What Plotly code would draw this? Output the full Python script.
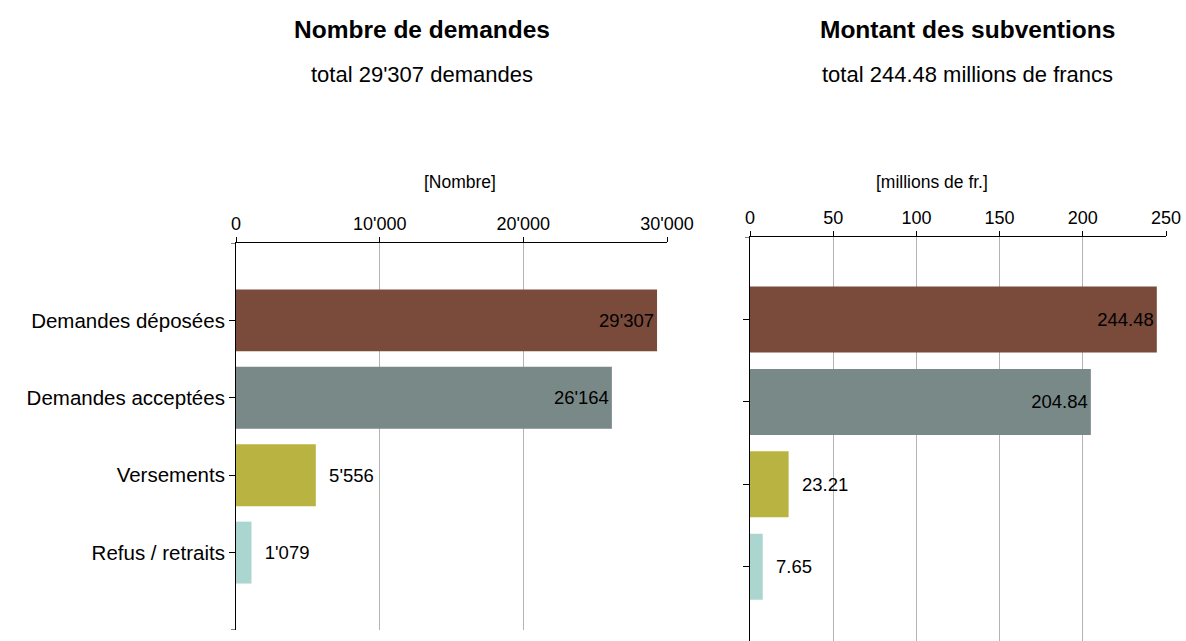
import plotly.graph_objects as go

# Data
categories = ["Demandes déposées", "Demandes acceptées", "Versements", "Refus / retraits"]
nombre = [29307, 26164, 5556, 1079]
montant = [244.48, 204.84, 23.21, 7.65]
bar_colors = ["#7a4a3b", "#798987", "#b9b441", "#abd6d0"]

nombre_ticks = [0, 10000, 20000, 30000]
nombre_ticktext = ["0", "10'000", "20'000", "30'000"]
montant_ticks = [0, 50, 100, 150, 200, 250]

W, H = 1186, 641


def px_x(p):
    return p / W


def px_y(p):
    return 1 - p / H


def fmt_thousands(v):
    return f"{v:,}".replace(",", "'")


FONT = "Liberation Sans, Arial, sans-serif"
PAD = "\u00a0\u00a0"  # small gap before labels placed outside the bars
label_pos = ["inside", "inside", "outside", "outside"]

fig = go.Figure()

# Left panel: number of requests
fig.add_trace(
    go.Bar(
        x=nombre,
        y=categories,
        orientation="h",
        marker=dict(color=bar_colors, line=dict(width=0)),
        text=[(PAD if p == "outside" else "") + fmt_thousands(v) for v, p in zip(nombre, label_pos)],
        textposition=label_pos,
        insidetextanchor="end",
        textfont=dict(family=FONT, color="black", size=18.5),
        constraintext="none",
        cliponaxis=False,
        width=0.8,
        xaxis="x",
        yaxis="y",
        hoverinfo="x+y",
    )
)

# Right panel: amount of subsidies
fig.add_trace(
    go.Bar(
        x=montant,
        y=categories,
        orientation="h",
        marker=dict(color=bar_colors, line=dict(width=0)),
        text=[(PAD if p == "outside" else "") + f"{v:.2f}" for v, p in zip(montant, label_pos)],
        textposition=label_pos,
        insidetextanchor="end",
        textfont=dict(family=FONT, color="black", size=18.5),
        constraintext="none",
        cliponaxis=False,
        width=0.8,
        xaxis="x2",
        yaxis="y2",
        hoverinfo="x+y",
    )
)

tick_font = dict(family=FONT, size=18, color="black")

fig.update_layout(
    width=W,
    height=H,
    margin=dict(l=0, r=0, t=0, b=0, autoexpand=False),
    paper_bgcolor="white",
    plot_bgcolor="white",
    showlegend=False,
    font=dict(family=FONT, color="black"),
    xaxis=dict(
        domain=[px_x(236), px_x(667)],
        range=[0, 30000],
        side="top",
        anchor="y",
        automargin=False,
        tickvals=nombre_ticks,
        ticktext=nombre_ticktext,
        ticks="outside",
        ticklen=5,
        tickcolor="black",
        showline=True,
        linecolor="black",
        linewidth=1,
        showgrid=True,
        gridcolor="#b4b4b4",
        gridwidth=1,
        zeroline=False,
        tickfont=tick_font,
    ),
    yaxis=dict(
        domain=[px_y(630), px_y(243)],
        range=[4, -1],
        type="category",
        anchor="x",
        automargin=False,
        ticks="outside",
        ticklen=6,
        tickcolor="black",
        showline=True,
        linecolor="black",
        linewidth=1,
        showgrid=False,
        tickfont=dict(family=FONT, size=20.5, color="black"),
    ),
    xaxis2=dict(
        domain=[px_x(750), px_x(1166)],
        range=[0, 250],
        side="top",
        anchor="y2",
        automargin=False,
        tickvals=montant_ticks,
        ticks="outside",
        ticklen=5,
        tickcolor="black",
        showline=True,
        linecolor="black",
        linewidth=1,
        showgrid=True,
        gridcolor="#b4b4b4",
        gridwidth=1,
        zeroline=False,
        tickfont=tick_font,
    ),
    yaxis2=dict(
        domain=[0, px_y(237)],
        range=[3.9, -1],
        type="category",
        anchor="x2",
        automargin=False,
        ticks="outside",
        ticklen=6,
        tickcolor="black",
        showline=True,
        linecolor="black",
        linewidth=1,
        showgrid=False,
        showticklabels=False,
    ),
)

# Small end ticks on the y-axes (bottom of left axis, top corners)
for xref, yref, yval, span in [("x domain", "y", 4, 431), ("x domain", "y", -1, 431), ("x2 domain", "y2", -1, 416)]:
    fig.add_shape(
        type="line",
        xref=xref,
        yref=yref,
        x0=-5 / span,
        x1=0,
        y0=yval,
        y1=yval,
        line=dict(color="black", width=1),
    )

# Titles and axis labels
annotations = [
    ("<b>Nombre de demandes</b>", 422, 30, 24.5),
    ("total 29'307 demandes", 422, 75, 22),
    ("<b>Montant des subventions</b>", 967, 30, 24.5),
    ("total 244.48 millions de francs", 967, 75, 22),
    ("[Nombre]", 460, 182, 17.5),
    ("[millions de fr.]", 932, 182, 17.5),
]
for text, x, y, size in annotations:
    fig.add_annotation(
        text=text,
        xref="paper",
        yref="paper",
        x=px_x(x),
        y=px_y(y),
        xanchor="center",
        yanchor="middle",
        showarrow=False,
        font=dict(family=FONT, size=size, color="black"),
    )

# drop the default page margin so the figure fills the window exactly
fig.write_html(
    "out.html",
    config={"displayModeBar": False},
    post_script="document.body.style.margin='0';document.body.style.overflow='hidden';",
)
